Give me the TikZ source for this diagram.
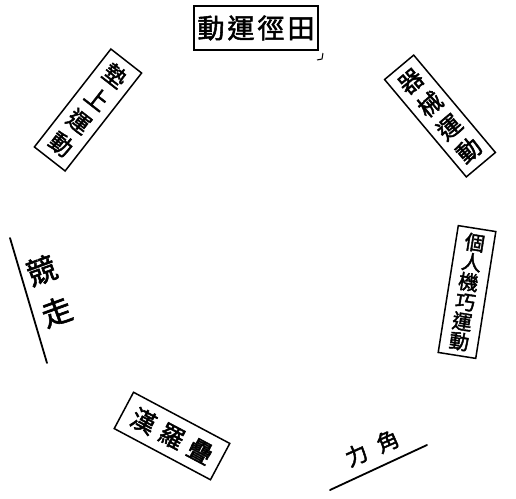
\documentclass[tikz,border=0pt]{standalone}
\usepackage{fontspec}
\newfontfamily\cjk[FakeBold=2]{Noto Sans CJK TC}
\begin{document}
\begin{tikzpicture}[x=1pt,y=-1pt,
  lbl/.style={draw,line width=1.5pt,align=center,inner sep=0pt},
  cjkfont/.style={font=\cjk\fontsize{#1}{#1}\selectfont},
  hand/.style={line width=1.8pt,line cap=round}]
\useasboundingbox (0,0) rectangle (516,498);
% top
\node[lbl,cjkfont=27,minimum width=124pt,minimum height=44pt] (tian) at (256,28)
  {動\hspace{3pt}運\hspace{3pt}徑\hspace{3pt}田};
\coordinate (hk1) at (323,53);
\coordinate (hk2) at (322,59);
\coordinate (hk3) at (317,60);
\draw[line width=1pt] (hk1) -- (hk2) -- (hk3);
% upper right
\node[lbl,font=\cjk\fontsize{24}{30}\selectfont,inner xsep=7pt,inner ysep=8pt,rotate=40] (qixie) at (440,116)
  {器\\械\\運\\動};
% right
\node[lbl,font=\cjk\fontsize{20}{20}\selectfont,inner xsep=9pt,inner ysep=5pt,rotate=-9] (geren) at (467,292)
  {個\\人\\機\\巧\\運\\動};
% upper left
\node[lbl,font=\cjk\fontsize{23}{29}\selectfont,inner xsep=8pt,inner ysep=8pt,rotate=-38] (dian) at (88,110)
  {墊\\上\\運\\動};
% bottom left
\node[lbl,cjkfont=25,inner xsep=10pt,inner ysep=9pt,rotate=-28] (luohan) at (172,436)
  {漢\hspace{7pt}羅\hspace{7pt}疊};
% left: 競走
\node[align=center,inner sep=0pt,font=\cjk\fontsize{30}{44}\selectfont,rotate=20] (jingzou) at (49,291)
  {競\\走};
\coordinate (ja) at (10,238);
\coordinate (jb) at (47,363);
\draw[hand] (ja) -- (jb);
% bottom right: 角力
\node[cjkfont=22,inner sep=0pt,rotate=24] (jiaoli) at (372,448)
  {力\hspace{12pt}角};
\coordinate (la) at (330,490);
\coordinate (lb) at (427,445);
\draw[hand] (la) -- (lb);
\end{tikzpicture}
\end{document}
